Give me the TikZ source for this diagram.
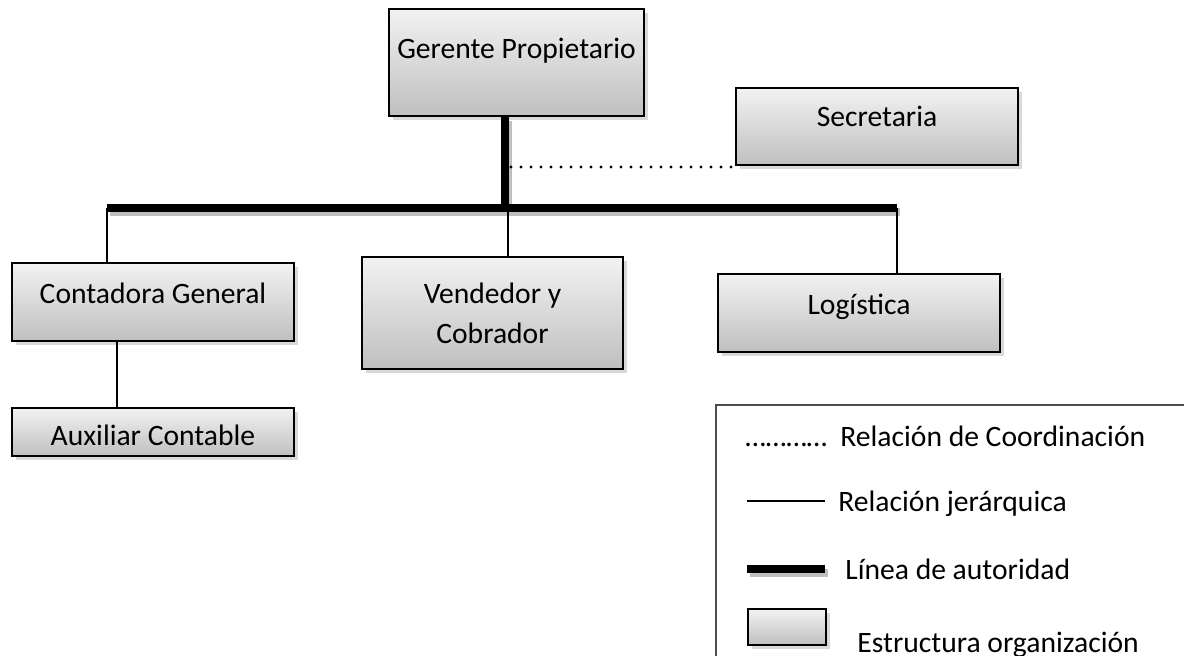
\documentclass[tikz,border=0pt]{standalone}
\usepackage{fontspec}
\setmainfont{Carlito}
\usetikzlibrary{calc,shadows}

\tikzset{
  orgbox/.style={draw, line width=1pt, inner sep=0pt, anchor=north west,
    top color=gray!10, bottom color=gray!50,
    drop shadow={shadow xshift=2pt, shadow yshift=-2pt, opacity=0.3},
    font=\fontsize{14.8}{20}\selectfont, align=center},
  legtext/.style={inner sep=0pt, anchor=base west, font=\fontsize{14.8}{20}\selectfont},
  rel/.style={line width=1pt},
  authority/.style={line width=4pt,
    preaction={draw=black, opacity=0.25, line width=4pt,
      transform canvas={shift={(1.5pt,-2pt)}}}},
  coord/.style={line width=1.6pt, line cap=round, dash pattern=on 0pt off 5pt},
  legendframe/.style={draw=black!70, line width=0.8pt}
}

\begin{document}
\begin{tikzpicture}[x=0.5pt,y=-0.5pt]
  \clip(0,0) rectangle (1184,655);
  \node(gerente)[orgbox, minimum width=127.5pt, text height=24.5pt, text depth=29pt]
    at (388,8) {Gerente Propietario};
  \node(secretaria)[orgbox, minimum width=141pt, text height=19pt, text depth=19.5pt]
    at (735,87) {Secretaria};
  \node(contadora)[orgbox, minimum width=141pt, text height=20pt, text depth=19pt]
    at (11,262) {Contadora General};
  \node(auxiliar)[orgbox, minimum width=141pt, text height=18.5pt, text depth=5.5pt]
    at (11,407) {Auxiliar Contable};
  \node(vendedor)[orgbox, minimum width=130.5pt, minimum height=56pt]
    at (361,256) {Vendedor y\\Cobrador};
  \node(logistica)[orgbox, minimum width=141pt, text height=20pt, text depth=19pt]
    at (717,273) {Logística};

  \coordinate(L) at (107,208);
  \coordinate(R) at (897,208);
  \coordinate(T) at (505,208);
  \coordinate(M) at (508,208);
  \coordinate(K) at (117,0);
  \coordinate(D) at (511,167);

  \draw[coord](D)--(D -| secretaria.west);
  \draw[rel](L)--(L |- contadora.north);
  \draw[rel](M)--(M |- vendedor.north);
  \draw[rel](R)--(R |- logistica.north);
  \draw[rel](contadora.south -| K)--(auxiliar.north -| K);
  \draw[authority](L)--(R);
  \draw[authority](gerente.south -| T)--(T);

  \draw[legendframe](716,405) rectangle (1200,680);
  \node(dots)[legtext] at (745,446) {…………};
  \node(coordtxt)[legtext] at (840,446) {Relación de Coordinación};
  \coordinate(j1) at (747,501);
  \coordinate(j2) at (825,501);
  \draw[line width=0.8pt](j1)--(j2);
  \node(jertxt)[legtext] at (838,511) {Relación jerárquica};
  \coordinate(a1) at (747,569);
  \coordinate(a2) at (825,569);
  \draw[authority](a1)--(a2);
  \node(auttxt)[legtext] at (845,579) {Línea de autoridad};
  \node(legbox)[orgbox, minimum width=39pt, minimum height=18pt] at (747,608) {};
  \node(esttxt)[legtext] at (857,652) {Estructura organización};
\end{tikzpicture}
\end{document}
